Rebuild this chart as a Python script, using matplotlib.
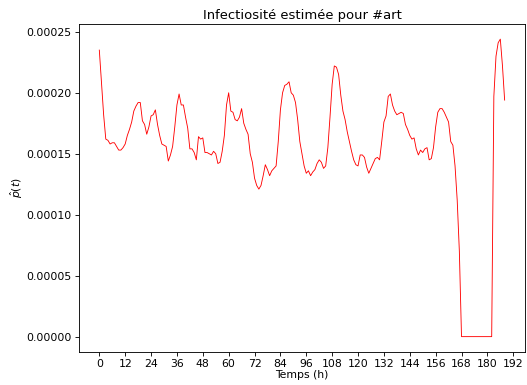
import numpy as np
import matplotlib
matplotlib.use("Agg")
import matplotlib.pyplot as plt

# infectiosité estimée, une valeur par heure (x1e-6)
hours = list(range(0, 189))
p_hat_e6 = [
    235, 208, 182, 162, 161, 158, 159, 159, 156, 153,
    153, 155, 158, 165, 170, 176, 185, 189, 192, 192,
    177, 174, 166, 172, 181, 182, 186, 174, 165, 158,
    157, 156, 144, 149, 156, 172, 190, 199, 190, 190,
    180, 171, 154, 154, 151, 145, 164, 162, 163, 151,
    151, 150, 149, 152, 150, 142, 143, 152, 165, 190,
    200, 185, 184, 178, 177, 180, 187, 175, 170, 166,
    150, 143, 130, 124, 121, 124, 132, 141, 137, 132,
    136, 138, 140, 160, 186, 200, 206, 207, 209, 200,
    198, 192, 178, 160, 150, 140, 134, 136, 132, 135,
    137, 142, 145, 143, 138, 140, 155, 180, 207, 222,
    221, 215, 198, 185, 178, 168, 160, 152, 145, 141,
    140, 149, 149, 147, 139, 134, 138, 142, 146, 147,
    145, 160, 176, 181, 197, 199, 190, 185, 182, 183,
    184, 183, 174, 170, 165, 162, 163, 154, 149, 153,
    151, 154, 155, 145, 146, 155, 172, 184, 187, 187,
    184, 180, 176, 160, 157, 140, 112, 70, 0, 0,
    0, 0, 0, 0, 0, 0, 0, 0, 0, 0,
    0, 0, 0, 197, 230, 241, 244, 222, 194,
]
p_hat = np.array(p_hat_e6) * 1e-6

dpi = 78.5
fig = plt.figure(figsize=(527 / dpi, 385 / dpi), dpi=dpi)
ax = fig.add_axes([0.150, 0.087, 0.846, 0.850])

ax.plot(hours, p_hat, color="red", linewidth=0.8)
ax.set_xticks(range(0, 193, 12))
ax.set_title("Infectiosité estimée pour #art", pad=5)
ax.set_xlabel("Temps (h)", labelpad=1)
ax.set_ylabel(r"$\hat{p}(t)$", labelpad=1)

fig.savefig("out.png", dpi=dpi)
